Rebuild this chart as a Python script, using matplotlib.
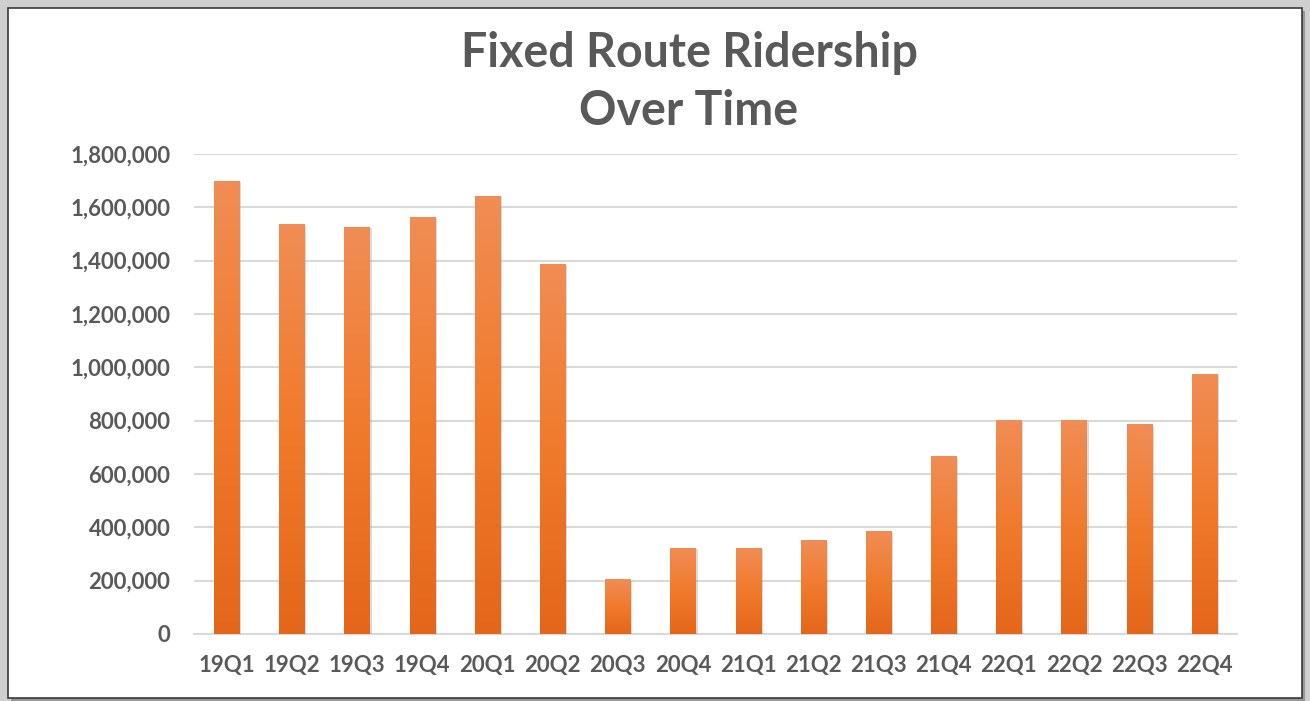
import matplotlib
matplotlib.use("Agg")
import matplotlib.pyplot as plt
import matplotlib.patheffects as pe
from matplotlib.patches import Rectangle
from matplotlib.colors import LinearSegmentedColormap
from matplotlib.ticker import FuncFormatter
import numpy as np

# quarterly ridership
quarters = ['19Q1', '19Q2', '19Q3', '19Q4', '20Q1', '20Q2', '20Q3', '20Q4',
            '21Q1', '21Q2', '21Q3', '21Q4', '22Q1', '22Q2', '22Q3', '22Q4']
ridership = [1700000, 1537000, 1527000, 1565000, 1644000, 1389000, 205000, 324000,
             324000, 352000, 385000, 666000, 801000, 801000, 787000, 976000]
y_ticks = [0, 200000, 400000, 600000, 800000, 1000000, 1200000, 1400000, 1600000, 1800000]

TEXT_GRAY = '#595959'
GRID_GRAY = '#d9d9d9'
FONT = ['Lato', 'DejaVu Sans']

fig = plt.figure(figsize=(13.1, 7.01), dpi=100)
fig.patch.set_facecolor('#cfcfcf')

# white chart area with a dark frame (drawn behind the axes)
frame = Rectangle((8 / 1310, 3 / 701), 1294 / 1310, 690 / 701, transform=fig.transFigure,
                  facecolor='white', edgecolor='#3a3a3a', linewidth=1.2, zorder=-5,
                  path_effects=[pe.SimplePatchShadow(offset=(2, -2), shadow_rgbFace='#8a8a8a', alpha=0.8),
                                pe.Normal()])
fig.patches.append(frame)

ax = fig.add_axes([194 / 1310, 67 / 701, 1043 / 1310, 480 / 701])
ax.set_facecolor('none')

x = np.arange(len(quarters))
bars = ax.bar(x, ridership, width=0.385, color='#ee7d3a', zorder=3,
              path_effects=[pe.SimplePatchShadow(offset=(1.5, -1), shadow_rgbFace='#9a9a9a', alpha=0.35),
                            pe.Normal()])

# vertical gradient fill, lighter at the top
grad_cmap = LinearSegmentedColormap.from_list('orange_grad', ['#e4661a', '#f07a2c', '#f08d55'])
grad = np.linspace(0, 1, 256).reshape(-1, 1)
for b in bars:
    x0, w, h = b.get_x(), b.get_width(), b.get_height()
    im = ax.imshow(grad, cmap=grad_cmap, origin='lower', aspect='auto',
                   extent=(x0, x0 + w, 0, h), zorder=4, interpolation='bilinear')
    im.set_clip_path(b)

ax.set_xlim(-0.5, len(quarters) - 0.5)
ax.set_ylim(0, 1800000)
ax.set_yticks(y_ticks)
ax.yaxis.set_major_formatter(FuncFormatter(lambda v, p: f'{int(v):,}'))
ax.set_xticks(x)
ax.set_xticklabels(quarters)

ax.grid(axis='y', color=GRID_GRAY, linewidth=1.5, zorder=0)
ax.set_axisbelow(True)
for side in ['top', 'right', 'left']:
    ax.spines[side].set_visible(False)
ax.spines['bottom'].set_color(GRID_GRAY)
ax.spines['bottom'].set_linewidth(1.5)

ax.tick_params(axis='both', length=0, labelsize=16, labelcolor=TEXT_GRAY)
ax.tick_params(axis='y', pad=17)
ax.tick_params(axis='x', pad=15)
for lbl in ax.get_xticklabels() + ax.get_yticklabels():
    lbl.set_fontfamily(FONT)
    lbl.set_fontweight('bold')

# two-line title
fig.text(0.526, 634 / 701, 'Fixed Route Ridership', ha='center', va='baseline',
         fontsize=33.5, fontweight='bold', color=TEXT_GRAY, family=FONT)
fig.text(0.526, 576 / 701, 'Over Time', ha='center', va='baseline',
         fontsize=33.5, fontweight='bold', color=TEXT_GRAY, family=FONT)

fig.savefig('out.png', dpi=100, facecolor=fig.get_facecolor())
